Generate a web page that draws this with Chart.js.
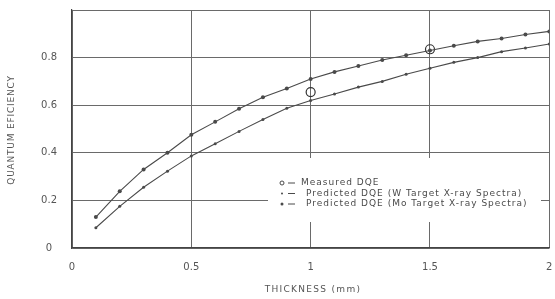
<!DOCTYPE html>
<html>
<head>
<meta charset="utf-8">
<title>Quantum Efficiency vs Thickness</title>
<script src="https://cdn.jsdelivr.net/npm/chart.js@4.4.1/dist/chart.umd.min.js"></script>
<style>
  body { margin: 0; background: #fff; }
  #wrap { width: 555px; height: 299px; }
</style>
</head>
<body>
<div id="wrap"><canvas id="qeChart"></canvas></div>
<script>
// ---- data ----
const thickness = [0.1, 0.2, 0.3, 0.4, 0.5, 0.6, 0.7, 0.8, 0.9, 1.0,
                   1.1, 1.2, 1.3, 1.4, 1.5, 1.6, 1.7, 1.8, 1.9, 2.0];
const dqeMo = [0.13, 0.238, 0.33, 0.40, 0.476, 0.53, 0.585, 0.633, 0.67, 0.71,
               0.74, 0.765, 0.79, 0.81, 0.83, 0.85, 0.868, 0.88, 0.897, 0.91];
const dqeW = [0.085, 0.175, 0.255, 0.323, 0.387, 0.438, 0.49, 0.54, 0.587, 0.62,
              0.647, 0.676, 0.70, 0.73, 0.755, 0.78, 0.80, 0.825, 0.84, 0.857];
const measuredX = [1.0, 1.5];
const measuredY = [0.655, 0.835];

const xTicks = [0, 0.5, 1, 1.5, 2];
const legendLines = [
  'Measured DQE',
  'Predicted DQE (W Target X-ray Spectra)',
  'Predicted DQE (Mo Target X-ray Spectra)'
];
const xTitle = 'THICKNESS (mm)';
const yTitle = 'QUANTUM EFICIENCY';

const ink = '#4a4a4a';
const gridInk = '#6a6a6a';
const fontFam = '"DejaVu Sans", sans-serif';

const toPts = (xs, ys) => xs.map((x, i) => ({ x: x, y: ys[i] }));

// legend box inside the plot, painted over the grid
const legendBox = {
  id: 'legendBox',
  beforeDatasetsDraw(chart) {
    const ctx = chart.ctx;
    ctx.save();
    ctx.fillStyle = '#fff';
    ctx.fillRect(268, 158, 273, 64);
    ctx.fillStyle = ink;
    ctx.strokeStyle = ink;
    ctx.font = '9px ' + fontFam;
    ctx.letterSpacing = '1px';
    ctx.textBaseline = 'middle';
    const ys = [183, 193.5, 204];
    ctx.lineWidth = 1;
    ctx.beginPath(); ctx.arc(282, ys[0], 2, 0, Math.PI * 2); ctx.stroke();
    ctx.beginPath(); ctx.arc(282, ys[1], 1, 0, Math.PI * 2); ctx.fill();
    ctx.beginPath(); ctx.arc(282, ys[2], 1.5, 0, Math.PI * 2); ctx.fill();
    ys.forEach(y => {
      ctx.beginPath(); ctx.moveTo(288, y); ctx.lineTo(295, y); ctx.stroke();
    });
    ctx.fillText(legendLines[0], 301, ys[0]);
    ctx.fillText(legendLines[1], 306, ys[1]);
    ctx.fillText(legendLines[2], 306, ys[2]);
    ctx.restore();
  },
  afterDraw(chart) {
    const ctx = chart.ctx;
    ctx.save();
    ctx.fillStyle = '#555';
    ctx.font = '9px ' + fontFam;
    ctx.textAlign = 'center';
    ctx.textBaseline = 'middle';
    ctx.letterSpacing = '1.3px';
    ctx.fillText(xTitle, 313, 290);
    ctx.translate(12, 130);
    ctx.rotate(-Math.PI / 2);
    ctx.letterSpacing = '0.8px';
    ctx.fillText(yTitle, 0, 0);
    ctx.restore();
  }
};

new Chart(document.getElementById('qeChart'), {
  type: 'scatter',
  data: {
    datasets: [
      {
        label: 'Predicted DQE (Mo Target X-ray Spectra)',
        data: toPts(thickness, dqeMo),
        showLine: true,
        borderColor: ink,
        borderWidth: 1.1,
        backgroundColor: ink,
        pointRadius: 2,
        pointBorderWidth: 0
      },
      {
        label: 'Predicted DQE (W Target X-ray Spectra)',
        data: toPts(thickness, dqeW),
        showLine: true,
        borderColor: ink,
        borderWidth: 1.1,
        backgroundColor: ink,
        pointRadius: 1.5,
        pointBorderWidth: 0
      },
      {
        label: 'Measured DQE',
        data: toPts(measuredX, measuredY),
        showLine: false,
        borderColor: '#333',
        borderWidth: 1.2,
        backgroundColor: 'rgba(0,0,0,0)',
        pointRadius: 4.5
      }
    ]
  },
  options: {
    responsive: true,
    maintainAspectRatio: false,
    animation: false,
    layout: { padding: { top: 10, right: 3, left: 0, bottom: 0 } },
    plugins: { legend: { display: false }, tooltip: { enabled: false } },
    scales: {
      x: {
        type: 'linear',
        min: 0, max: 2,
        afterBuildTicks: s => { s.ticks = xTicks.map(v => ({ value: v })); },
        afterFit: s => { s.height = 51; s.paddingLeft = 0; s.paddingRight = 0; },
        grid: { color: gridInk, lineWidth: 1, drawTicks: false },
        border: { color: '#444', width: 1.2 },
        ticks: {
          padding: 13,
          color: '#555',
          font: { family: fontFam, size: 10 },
          callback: v => String(v)
        }
      },
      y: {
        min: 0, max: 1,
        ticks: {
          stepSize: 0.2,
          padding: 15,
          crossAlign: 'center',
          color: '#555',
          font: { family: fontFam, size: 10 },
          callback: v => v >= 1 ? '' : String(Math.round(v * 10) / 10)
        },
        afterFit: s => { s.width = 72; s.paddingTop = 0; s.paddingBottom = 0; },
        grid: { color: gridInk, lineWidth: 1, drawTicks: false },
        border: { color: '#444', width: 1.2 }
      }
    }
  },
  plugins: [legendBox]
});
</script>
</body>
</html>
